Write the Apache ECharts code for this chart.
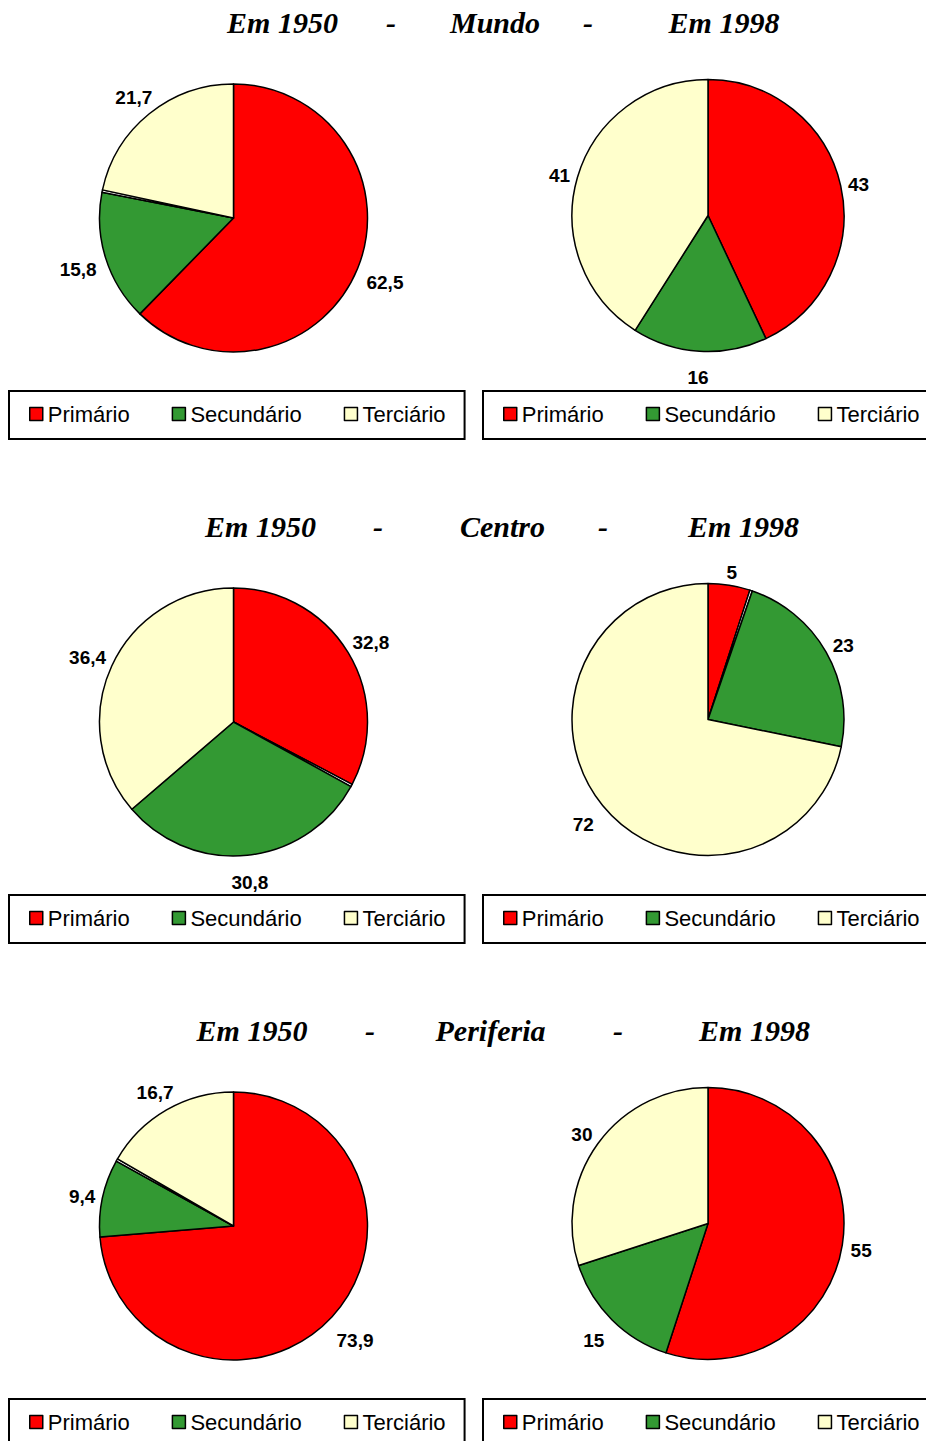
<!DOCTYPE html>
<html>
<head>
<meta charset="utf-8">
<script src="https://cdn.jsdelivr.net/npm/echarts@6/dist/echarts.min.js"></script>
<style>
  html, body { margin: 0; padding: 0; background: #ffffff; }
  #chart { width: 926px; height: 1441px; }
</style>
</head>
<body>
<div id="chart"></div>
<script>
// Employment by economic sector (%), 1950 vs 1998
const sectors = ['Primário', 'Secundário', 'Terciário'];
const sectorColors = ['#FF0000', '#339933', '#FFFFCC'];
const regions = ['Mundo', 'Centro', 'Periferia'];
const years = ['Em 1950', 'Em 1998'];

const mundo1950 = [62.5, 15.8, 21.7];
const mundo1998 = [43, 16, 41];
const centro1950 = [32.8, 30.8, 36.4];
const centro1998 = [5, 23, 72];
const periferia1950 = [73.9, 9.4, 16.7];
const periferia1998 = [55, 15, 30];

// thin unlabelled wedge: its size and the sector it follows (-1 = none)
const residualValue = [0.3, 0, 0.3, 0.3, 0.3, 0];
const residualAfter = [1, -1, 0, 0, 1, -1];

const pies = [mundo1950, mundo1998, centro1950, centro1998, periferia1950, periferia1998];

const ROW_STEP = 504;
const FONT_SANS = '"Liberation Sans", Arial, sans-serif';
const FONT_SERIF = '"Liberation Serif", "Times New Roman", serif';

function fmt(v) {
  return String(v).replace('.', ',');
}

function buildData(values, idx) {
  const out = [];
  values.forEach(function (v, i) {
    out.push({ name: sectors[i], value: v, itemStyle: { color: sectorColors[i] } });
    if (i === residualAfter[idx]) {
      out.push({
        name: 'Outros', value: residualValue[idx],
        itemStyle: { color: '#FFFFFF' },
        label: { show: false }
      });
    }
  });
  return out;
}

// Place a value label just clear of the pie rim, along the slice's mid-angle,
// keeping a small gap between the text box and the rim.
function makeLabelLayout(center, radius) {
  return function (p) {
    const r = p.labelRect;
    let side = p.align;
    if (side !== 'left' && side !== 'right') {
      side = r.x > center[0] ? 'left' : 'right';
    }
    const ax = side === 'left' ? r.x - 5 : r.x + r.width + 5;
    const ay = r.y + r.height / 2;
    const dx = ax - center[0];
    const dy = ay - center[1];
    const len = Math.sqrt(dx * dx + dy * dy) || 1;
    const ux = dx / len;
    const uy = dy / len;
    const ext = radius + 6 + 8 * Math.max(uy, 0) +
      (r.width / 2) * Math.abs(ux) + 9 * Math.abs(uy);
    return {
      x: center[0] + ux * ext,
      y: center[1] + uy * ext + 3,
      align: 'center',
      verticalAlign: 'middle'
    };
  };
}

const series = [];
const legends = [];
pies.forEach(function (values, idx) {
  const row = Math.floor(idx / 2);
  const right = idx % 2 === 1;
  const center = right ? [708, 215.5 + ROW_STEP * row] : [233.5, 218 + ROW_STEP * row];
  const radius = right ? 136 : 134;
  series.push({
    type: 'pie',
    name: regions[row] + ' ' + years[idx % 2],
    center: center,
    radius: radius,
    startAngle: 90,
    clockwise: true,
    avoidLabelOverlap: false,
    silent: true,
    animation: false,
    itemStyle: { borderColor: '#000000', borderWidth: 1.5 },
    label: {
      show: true,
      position: 'outside',
      color: '#000000',
      fontFamily: FONT_SANS,
      fontWeight: 'bold',
      fontSize: 19,
      formatter: function (p) { return fmt(p.value); }
    },
    labelLine: { show: false, length: 20, length2: 0 },
    labelLayout: makeLabelLayout(center, radius),
    data: buildData(values, idx)
  });
  legends.push({
    data: sectors,
    orient: 'horizontal',
    left: right ? 483 : 9,
    top: 391 + ROW_STEP * row,
    width: 480,
    padding: [12, 19, 14, 20],
    itemGap: 42,
    itemWidth: 13,
    itemHeight: 13,
    icon: 'rect',
    borderColor: '#000000',
    borderWidth: 2,
    selectedMode: false,
    itemStyle: { borderColor: '#000000', borderWidth: 1.5 },
    textStyle: { fontFamily: FONT_SANS, fontSize: 22, color: '#000000' }
  });
});

// headings: "Em 1950 - Região - Em 1998"
const headingX = [
  [282.5, 391, 495, 588, 724],
  [260.5, 378, 502.5, 603, 743.5],
  [252, 370, 490.5, 618, 754.5]
];
const graphics = [];
regions.forEach(function (reg, row) {
  const parts = [years[0], '-', reg, '-', years[1]];
  parts.forEach(function (t, j) {
    graphics.push({
      type: 'text',
      x: headingX[row][j],
      y: 22 + ROW_STEP * row,
      silent: true,
      style: {
        text: t,
        font: 'italic bold 30px ' + FONT_SERIF,
        fill: '#000000',
        align: 'center',
        verticalAlign: 'middle'
      }
    });
  });
});

const chart = echarts.init(document.getElementById('chart'), null, { renderer: 'svg' });
chart.setOption({
  backgroundColor: '#ffffff',
  animation: false,
  legend: legends,
  graphic: graphics,
  series: series
});
</script>
</body>
</html>
